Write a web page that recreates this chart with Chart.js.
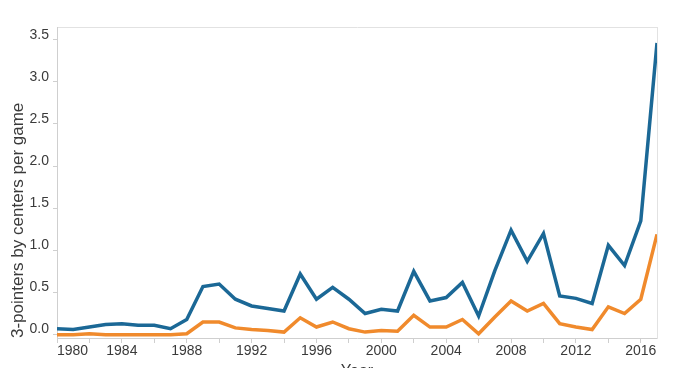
<!DOCTYPE html>
<html>
<head>
<meta charset="utf-8">
<script src="https://cdn.jsdelivr.net/npm/chart.js@4/dist/chart.umd.min.js"></script>
<style>
html, body { margin: 0; padding: 0; background: #fff; overflow: hidden; }
#wrap { width: 680px; height: 381px; }
</style>
</head>
<body>
<div id="wrap"><canvas id="c" width="680" height="381"></canvas></div>
<script>
const years = [1980,1981,1982,1983,1984,1985,1986,1987,1988,1989,1990,1991,1992,1993,1994,1995,1996,1997,1998,1999,2000,2001,2002,2003,2004,2005,2006,2007,2008,2009,2010,2011,2012,2013,2014,2015,2016,2017];
const seriesBlue = [0.07,0.06,0.09,0.12,0.13,0.11,0.11,0.07,0.18,0.57,0.60,0.42,0.34,0.31,0.28,0.72,0.42,0.56,0.42,0.25,0.30,0.28,0.75,0.40,0.44,0.62,0.22,0.76,1.24,0.87,1.20,0.46,0.43,0.37,1.06,0.82,1.35,3.46];
const seriesOrange = [0.00,0.00,0.01,0.00,0.00,0.00,0.00,0.00,0.01,0.15,0.15,0.08,0.06,0.05,0.03,0.20,0.09,0.15,0.07,0.03,0.05,0.04,0.23,0.09,0.09,0.18,0.01,0.21,0.40,0.28,0.37,0.13,0.09,0.06,0.33,0.25,0.42,1.19];
const yTickValues = [0,0.5,1.0,1.5,2.0,2.5,3.0,3.5];
const xTickValues = [1980,1982,1984,1986,1988,1990,1992,1994,1996,1998,2000,2002,2004,2006,2008,2010,2012,2014,2016,2017];
const xLabelYears = [1980,1984,1988,1992,1996,2000,2004,2008,2012,2016];
const yTitle = '3-pointers by centers per game';
const xTitle = 'Year';

const toPts = arr => years.map((y, i) => ({ x: y, y: arr[i] }));
const FONT = "'Liberation Sans', Arial, sans-serif";
const TXT = '#3a3a3a';
const AX = '#cfcfcf';

new Chart(document.getElementById('c'), {
  type: 'line',
  data: {
    datasets: [
      { label: 'Series A', data: toPts(seriesBlue), borderColor: '#1b6896', borderWidth: 3.5, pointRadius: 0, tension: 0, fill: false },
      { label: 'Series B', data: toPts(seriesOrange), borderColor: '#f08a2c', borderWidth: 3.5, pointRadius: 0, tension: 0, fill: false }
    ]
  },
  options: {
    responsive: false,
    animation: false,
    layout: { padding: { left: 0, right: 23, top: 27, bottom: 0 } },
    plugins: { legend: { display: false }, tooltip: { enabled: false } },
    scales: {
      x: {
        type: 'linear',
        min: 1980, max: 2017,
        afterBuildTicks: s => { s.ticks = xTickValues.map(v => ({ value: v })); },
        afterFit: s => { s.height = 43; },
        ticks: {
          color: TXT, font: { family: FONT, size: 14 }, padding: 0, maxRotation: 0, autoSkip: false, align: 'inner',
          callback: v => xLabelYears.includes(v) ? String(v) : ''
        },
        grid: {
          display: true, drawOnChartArea: false, drawTicks: true, tickLength: 5,
          color: ctx => (ctx.tick && ctx.tick.value === 2017) ? 'rgba(0,0,0,0)' : AX
        },
        border: { display: true, color: AX },
        title: { display: true, text: xTitle, color: TXT, font: { family: FONT, size: 16 }, padding: { top: 0, bottom: 0 } }
      },
      x2: {
        type: 'linear', position: 'top', min: 1980, max: 2017,
        ticks: { display: false }, grid: { display: false, drawTicks: false },
        border: { display: true, color: '#e2e2e2' }
      },
      y: {
        type: 'linear',
        min: -0.04, max: 3.65,
        afterBuildTicks: s => { s.ticks = yTickValues.map(v => ({ value: v })); },
        afterFit: s => { s.width = 57; },
        ticks: {
          color: TXT, font: { family: FONT, size: 14 }, padding: 4, labelOffset: -5,
          callback: v => Number(v).toFixed(1)
        },
        grid: { display: true, drawOnChartArea: false, drawTicks: true, tickLength: 4, color: AX },
        border: { display: true, color: AX },
        title: { display: true, text: yTitle, align: 'start', color: TXT, font: { family: FONT, size: 17 }, padding: { top: 8, bottom: 0 } }
      },
      y2: {
        type: 'linear', position: 'right', min: -0.04, max: 3.65,
        ticks: { display: false }, grid: { display: false, drawTicks: false },
        border: { display: true, color: '#e2e2e2' }
      }
    }
  }
});
</script>
</body>
</html>
